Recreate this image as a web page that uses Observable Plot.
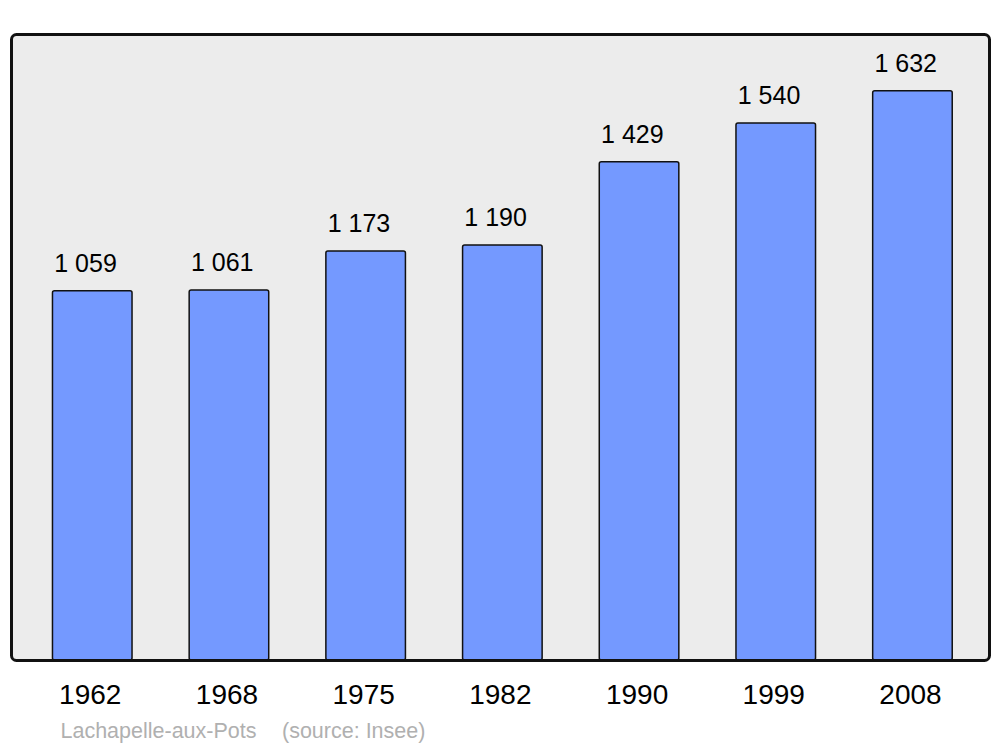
<!DOCTYPE html>
<html>
<head>
<meta charset="utf-8">
<script src="https://cdn.jsdelivr.net/npm/d3@7"></script>
<script src="https://cdn.jsdelivr.net/npm/@observablehq/plot@0.6"></script>
<style>
  html, body { margin: 0; padding: 0; background: #ffffff; }
</style>
</head>
<body>
<div id="chart"></div>
<script>
const years = ["1962", "1968", "1975", "1982", "1990", "1999", "2008"];
const population = [1059, 1061, 1173, 1190, 1429, 1540, 1632];
const commune = "Lachapelle-aux-Pots";
const source = "(source: Insee)";

const data = years.map((y, i) => ({year: y, pop: population[i]}));
const fmt = d3.formatLocale({decimal: ",", thousands: " ", grouping: [3], currency: ["", ""]}).format(",");

const chart = Plot.plot({
  width: 1000,
  height: 747,
  marginTop: 34,
  marginBottom: 87,
  marginLeft: 11,
  marginRight: 11,
  style: {fontFamily: "'Liberation Sans', Arial, sans-serif", background: "#ffffff", color: "#000"},
  x: {type: "band", domain: years, paddingInner: 0.418, paddingOuter: 0.209, insetLeft: 12.9, insetRight: 8.2, round: false},
  y: {domain: [0, 1795], axis: null},
  marks: [
    Plot.frame({fill: "#ececec", stroke: null, rx: 5}),
    Plot.barY(data, {x: "year", y: "pop", fill: "#7499ff", stroke: "#111", strokeWidth: 1.5, rx: 2}),
    Plot.frame({fill: "none", stroke: "#111", strokeWidth: 3, rx: 5}),
    Plot.text(data, {x: "year", y: "pop", text: d => fmt(d.pop), textAnchor: "start", lineAnchor: "bottom", dx: -38.5, dy: -19, fontSize: 25, fill: "#000"}),
    Plot.axisX({tickSize: 0, tickPadding: 24, fontSize: 28, label: null, fill: "#000", dx: -2.5}),
    Plot.text([commune], {frameAnchor: "bottom-left", textAnchor: "start", lineAnchor: "bottom", dx: 49, dy: 77, fontSize: 21.5, fill: "#b0b0b0"}),
    Plot.text([source], {frameAnchor: "bottom-left", textAnchor: "start", lineAnchor: "bottom", dx: 270.5, dy: 77, fontSize: 21.5, fill: "#b0b0b0"})
  ]
});
document.getElementById("chart").appendChild(chart);
</script>
</body>
</html>
